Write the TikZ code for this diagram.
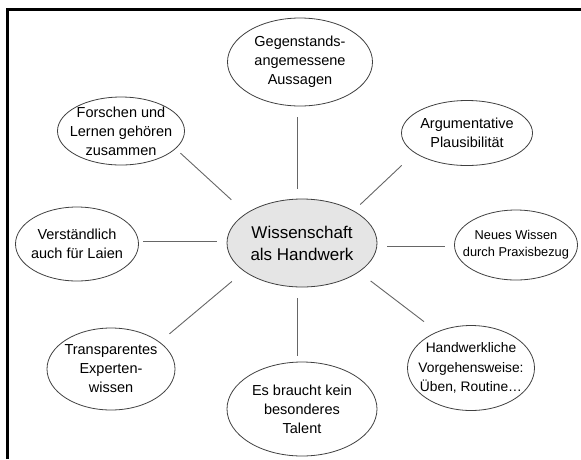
\documentclass[tikz,border=0pt]{standalone}
\usepackage{fontspec}
\setmainfont{Liberation Sans}
\usetikzlibrary{shapes.geometric}

\begin{document}
\begin{tikzpicture}[x=1pt, y=-1pt,
	bubble/.style={ellipse, draw=black!75, line width=0.8pt, align=center,
		inner xsep=-45pt, inner ysep=-35pt,
		font=\fontsize{14.5pt}{19pt}\selectfont},
	bubble hub/.style={fill=black!10, font=\fontsize{17pt}{22pt}\selectfont},
	spoke/.style={draw=black!60, line width=0.9pt}]

	\useasboundingbox (0,0) rectangle (581,459);

	% Frame
	\draw [line width=3pt] (7,459) -- (7,9) -- (581,9);

	% Center
	\node [bubble, bubble hub, minimum width=150pt, minimum height=88pt]
		(hub) at (302,243) {Wissenschaft\\als Handwerk};

	% Top row
	\node [bubble, minimum width=145pt, minimum height=88pt]
		(gegen) at (300,62) {Gegenstands-\\angemessene\\Aussagen};
	\node [bubble, minimum width=127pt, minimum height=68pt]
		(forsch) at (121,131) {Forschen und\\Lernen gehören\\zusammen};
	\node [bubble, minimum width=131pt, minimum height=65pt]
		(argum) at (467,133) {Argumentative\\Plausibilität};

	% Middle row
	\node [bubble, minimum width=123pt, minimum height=74pt]
		(verst) at (77,244) {Verständlich\\auch für Laien};
	\node [bubble, minimum width=123pt, minimum height=70pt,
		font=\fontsize{12.8pt}{17pt}\selectfont]
		(neues) at (516,245) {Neues Wissen\\durch Praxisbezug};

	% Bottom row
	\node [bubble, minimum width=128pt, minimum height=82pt]
		(transp) at (111,369) {Transparentes\\Experten-\\wissen};
	\node [bubble, minimum width=150pt, minimum height=94pt]
		(talent) at (302,409) {Es braucht kein\\besonderes\\Talent};
	\node [bubble, minimum width=127pt, minimum height=85pt,
		font=\fontsize{13.8pt}{19.5pt}\selectfont]
		(handw) at (471,368) {Handwerkliche\\Vorgehensweise:\\Üben, Routine…};

	% Spokes
	\draw [spoke, shorten <=10pt, shorten >=11pt]
		([xshift=-5pt]hub.north) -- ([xshift=-3pt]gegen.south);
	\draw [spoke, shorten <=20pt, shorten >=6.5pt] (hub.152) -- (forsch.-18);
	\draw [spoke, shorten <=9pt, shorten >=18pt] (hub.32) -- (argum.201);
	\draw [spoke, shorten <=10pt, shorten >=4.5pt]
		([yshift=2pt]hub.west) -- ([yshift=3pt]verst.east);
	\draw [spoke, shorten <=10pt, shorten >=9.5pt]
		([yshift=-3pt]hub.east) -- ([yshift=-1pt]neues.west);
	\draw [spoke, shorten <=15.7pt, shorten >=12.6pt] (hub.206) -- (transp.29);
	\draw [spoke, shorten <=11pt, shorten >=6pt]
		([xshift=-5pt]hub.south) -- ([xshift=-5pt]talent.north);
	\draw [spoke, shorten <=14.7pt, shorten >=16.5pt] (hub.-27) -- (handw.133);

\end{tikzpicture}
\end{document}
